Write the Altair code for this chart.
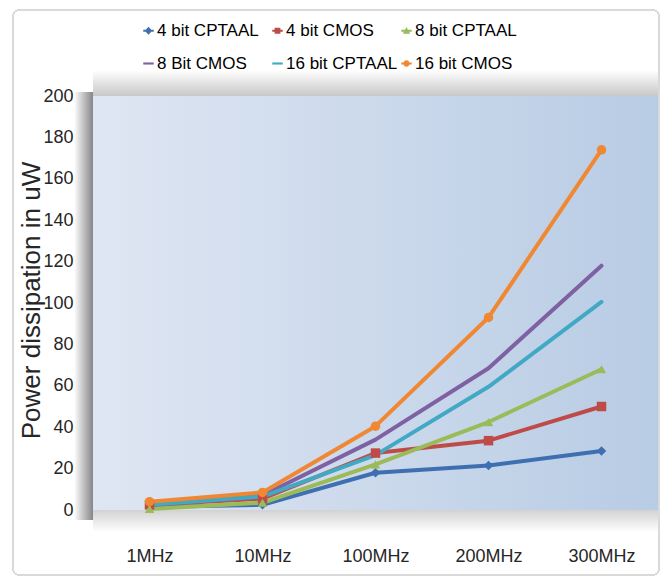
import altair as alt
import pandas as pd

freq = ["1MHz", "10MHz", "100MHz", "200MHz", "300MHz"]
series = ["4 bit CPTAAL", "4 bit CMOS", "8 bit CPTAAL", "8 Bit CMOS", "16 bit CPTAAL", "16 bit CMOS"]
cpt4 = [1.5, 2.5, 18, 21.5, 28.5]
cmos4 = [2.5, 5.5, 27.5, 33.5, 50]
cpt8 = [0.5, 3.5, 22, 42.5, 68]
cmos8 = [3, 7, 34, 68.5, 118]
cpt16 = [2.5, 6.5, 26.5, 59.5, 100.5]
cmos16 = [4, 8.5, 40.5, 93, 174]
y_ticks = [0, 20, 40, 60, 80, 100, 120, 140, 160, 180, 200]

colors = ["#3e6fb0", "#be4b48", "#9bbb59", "#7f60a2", "#41a9c4", "#f08833"]
markers = ["diamond", "square", "triangle-up", "", "", "circle"]
LINE = "M-1,-0.2L1,-0.2L1,0.2L-1,0.2Z"
legend_shapes = [
    LINE + " M0,-0.75L0.7,0L0,0.75L-0.7,0Z",
    LINE + " M-0.55,-0.55L0.55,-0.55L0.55,0.55L-0.55,0.55Z",
    LINE + " M0,-0.7L0.7,0.55L-0.7,0.55Z",
    LINE,
    LINE,
    LINE + " M-0.6,0A0.6,0.6 0 1,1 0.6,0A0.6,0.6 0 1,1 -0.6,0Z",
]

rows = []
for s, vals, m in zip(series, [cpt4, cmos4, cpt8, cmos8, cpt16, cmos16], markers):
    for f, v in zip(freq, vals):
        rows.append({"Frequency": f, "Series": s, "Power": v, "Marker": m})
df = pd.DataFrame(rows)

W, H = 565, 414
FONT = "Liberation Sans"

x_enc = alt.X("Frequency:N", sort=freq, scale=alt.Scale(paddingInner=0, paddingOuter=0),
              axis=alt.Axis(title=None, labelAngle=0, labelFont=FONT, labelFontSize=18,
                            labelColor="#262626", labelPadding=37, ticks=False,
                            domain=True, domainColor="#a6a6a6", grid=True,
                            gridColor="#a9b8cc", tickBand="extent"))
y_enc = alt.Y("Power:Q", scale=alt.Scale(domain=[0, 200], nice=False),
              axis=alt.Axis(values=y_ticks, title="Power dissipation in uW", titleFont=FONT,
                            titleFontSize=26, titleFontWeight="normal", titleColor="#262626",
                            titleX=-54, titleY=H / 2 - 3, titleAngle=-90, titleAlign="center",
                            titleBaseline="alphabetic",
                            labelFont=FONT, labelFontSize=18, labelColor="#262626",
                            labelPadding=20, ticks=False, domain=False, grid=True,
                            gridColor="#a9b8cc"))
color_scale = alt.Scale(domain=series, range=colors)
color_enc = alt.Color("Series:N", sort=series, scale=color_scale)

base = alt.Chart(df)

# decorative panel background and soft shadows
bg = base.mark_rect(
    color=alt.Gradient(gradient="linear", x1=0, x2=1, y1=0, y2=0,
                       stops=[alt.GradientStop(offset=0, color="#dfe6f3"),
                              alt.GradientStop(offset=1, color="#b8cce4")])
).encode(x=alt.value(0), x2=alt.value(W), y=alt.value(0), y2=alt.value(H))
shadow_left = base.mark_rect(
    color=alt.Gradient(gradient="linear", x1=0, x2=1, y1=0, y2=0,
                       stops=[alt.GradientStop(offset=0, color="#ffffff"),
                              alt.GradientStop(offset=1, color="#868686")])
).encode(x=alt.value(-19), x2=alt.value(0), y=alt.value(-4), y2=alt.value(H + 10))
shadow_top = base.mark_rect(
    color=alt.Gradient(gradient="linear", x1=0, x2=0, y1=0, y2=1,
                       stops=[alt.GradientStop(offset=0, color="#ffffff"),
                              alt.GradientStop(offset=1, color="#c8c8c8")])
).encode(x=alt.value(0), x2=alt.value(W), y=alt.value(-26), y2=alt.value(0))
shadow_bot = base.mark_rect(
    color=alt.Gradient(gradient="linear", x1=0, x2=0, y1=0, y2=1,
                       stops=[alt.GradientStop(offset=0, color="#d2d2d2"),
                              alt.GradientStop(offset=1, color="#ffffff")])
).encode(x=alt.value(0), x2=alt.value(W), y=alt.value(H), y2=alt.value(H + 22))
frame = base.mark_rect(fill=None, stroke="#d9d9d9", strokeWidth=1, cornerRadius=6).encode(
    x=alt.value(-80), x2=alt.value(W + 1), y=alt.value(-86), y2=alt.value(H + 65))

lines = base.mark_line(strokeWidth=4, strokeJoin="round", strokeCap="round").encode(
    x=x_enc, y=y_enc, color=color_enc)

pts = base.transform_filter(alt.datum.Marker != "").mark_point(
    filled=True, opacity=1, size=90).encode(
    x=x_enc, y=y_enc, color=color_enc, shape=alt.Shape("Marker:N", scale=None))

legend_layer = base.mark_point(filled=True, opacity=0).encode(
    x=x_enc, y=y_enc,
    color=alt.Color("Series:N", sort=series, scale=color_scale,
                    legend=alt.Legend(title=None, orient="none", legendX=47, legendY=-74,
                                      direction="horizontal", columns=3, gridAlign="all",
                                      columnPadding=0, rowPadding=15, labelFont=FONT,
                                      labelFontSize=17, labelColor="#000000", labelOffset=0,
                                      symbolSize=110, symbolOpacity=1, symbolStrokeWidth=0,
                                      labelLimit=300, padding=0)),
    shape=alt.Shape("Series:N", sort=series,
                    scale=alt.Scale(domain=series, range=legend_shapes)))

chart = alt.layer(frame, shadow_left, shadow_top, shadow_bot, bg, lines, pts, legend_layer).properties(
    width=W, height=H,
    autosize=alt.AutoSizeParams(type="none"),
    padding={"left": 93, "top": 96, "right": 4, "bottom": 67},
    background="white",
).configure_view(stroke=None)

chart.save("out.html", embed_options={"renderer": "svg", "actions": False})
